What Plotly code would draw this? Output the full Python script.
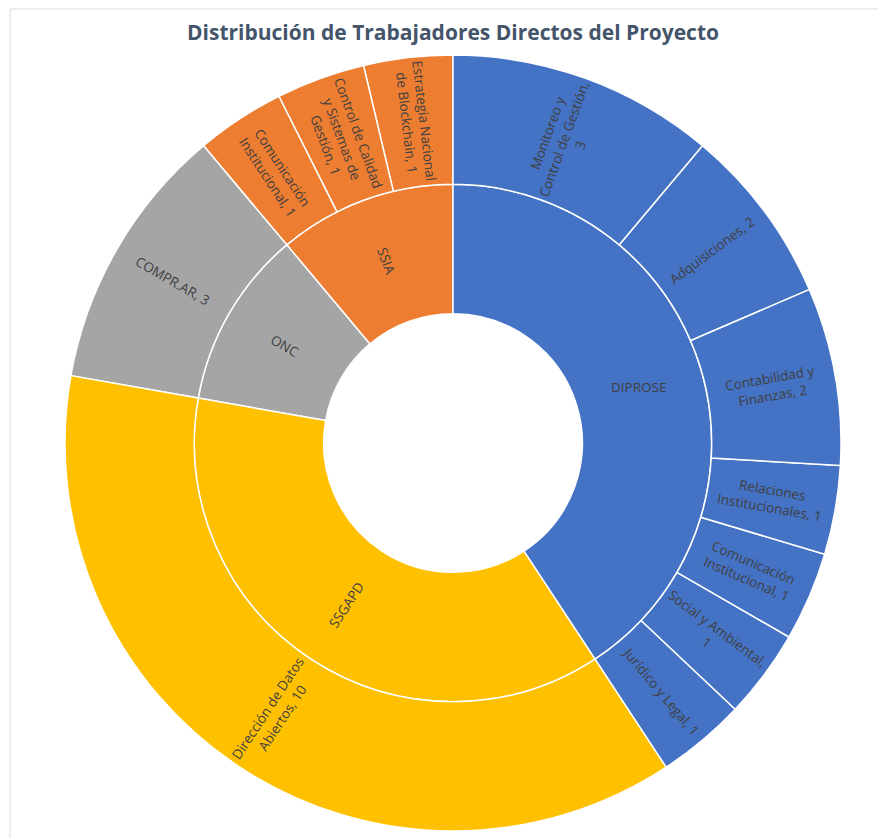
import math
import plotly.graph_objects as go

# ---- data ----
groups = ["SSIA", "ONC", "SSGAPD", "DIPROSE"]
group_colors = ["#ED7D31", "#A5A5A5", "#FFC000", "#4472C4"]

areas_ssia = ["Estrategia Nacional de Blockchain", "Control de Calidad y Sistemas de Gestión", "Comunicación Institucional"]
values_ssia = [1, 1, 1]
areas_onc = ["COMPR.AR"]
values_onc = [3]
areas_ssgapd = ["Dirección de Datos Abiertos"]
values_ssgapd = [10]
areas_diprose = ["Jurídico y Legal", "Social y Ambiental", "Comunicación Institucional",
                 "Relaciones Institucionales", "Contabilidad y Finanzas", "Adquisiciones",
                 "Monitoreo y Control de Gestión"]
values_diprose = [1, 1, 1, 1, 2, 2, 3]

# wrapped display labels (as in the original)
wrap = {
    "Estrategia Nacional de Blockchain": "Estrategia Nacional<br>de Blockchain, 1",
    "Control de Calidad y Sistemas de Gestión": "Control de Calidad<br>y Sistemas de<br>Gestión, 1",
    "Comunicación Institucional": "Comunicación<br>Institucional, 1",
    "COMPR.AR": "COMPR.AR, 3",
    "Dirección de Datos Abiertos": "Dirección de Datos<br>Abiertos, 10",
    "Jurídico y Legal": "Jurídico y Legal, 1",
    "Social y Ambiental": "Social y Ambiental,<br>1",
    "Relaciones Institucionales": "Relaciones<br>Institucionales, 1",
    "Contabilidad y Finanzas": "Contabilidad y<br>Finanzas, 2",
    "Adquisiciones": "Adquisiciones, 2",
    "Monitoreo y Control de Gestión": "Monitoreo y<br>Control de Gestión,<br>3",
}
horizontal_labels = {"DIPROSE"}

children = {
    "SSIA": (areas_ssia, values_ssia),
    "ONC": (areas_onc, values_onc),
    "SSGAPD": (areas_ssgapd, values_ssgapd),
    "DIPROSE": (areas_diprose, values_diprose),
}

ids, labels, parents, values, colors = [], [], [], [], []
total = sum(sum(v) for _, v in children.values())
ids.append("root"); labels.append(""); parents.append(""); values.append(total)
colors.append("white")
for g, c in zip(groups, group_colors):
    names, vals = children[g]
    ids.append(g); labels.append(g); parents.append("root"); values.append(sum(vals))
    colors.append(c)
    for n, v in zip(names, vals):
        ids.append(g + "/" + n); labels.append(n); parents.append(g); values.append(v)
        colors.append(c)

fig = go.Figure(go.Sunburst(
    ids=ids, labels=labels, parents=parents, values=values,
    branchvalues="total", sort=False, rotation=90,
    textinfo="none",
    leaf=dict(opacity=1),
    marker=dict(colors=colors, line=dict(color="white", width=1.5)),
    hoverinfo="label+value",
))

# ---- radial labels, computed from the data (sectors run counter-clockwise from 12 o'clock) ----
annotations = []
font = dict(family="Open Sans", size=13.5, color="#404040")


def label(text, theta, r, ang):
    return dict(x=0.5 + r * math.sin(math.radians(theta)),
                y=0.5 + r * math.cos(math.radians(theta)),
                xref="paper", yref="paper", xanchor="center", yanchor="middle",
                text=text, showarrow=False, textangle=ang, font=font, align="center")


cum = 0.0
for g in groups:
    names, vals = children[g]
    gstart = cum
    for n, v in zip(names, vals):
        a0 = cum; a1 = cum + v
        cum = a1
        theta = (360.0 - (a0 + a1) / 2 / total * 360.0) % 360.0   # clockwise from top
        ang = theta - 90 if theta < 180 else theta - 270
        annotations.append(label(wrap[n], theta, 2.5 / 6.0, ang))
    theta = (360.0 - (gstart + cum) / 2 / total * 360.0) % 360.0
    ang = 0 if g in horizontal_labels else (theta - 90 if theta < 180 else theta - 270)
    annotations.append(label(g, theta, 1.5 / 6.0, ang))

W, H = 878, 830
L, T, D = 57, 47, 776
fig.update_layout(
    width=W, height=H,
    margin=dict(l=L, r=W - L - D, t=T, b=H - T - D),
    paper_bgcolor="white",
    title=dict(text="<b>Distribución de Trabajadores Directos del Proyecto</b>",
               x=445 / W, xanchor="center", y=1 - 25 / H, yanchor="middle",
               font=dict(family="Open Sans", size=21, color="#44546A")),
    annotations=annotations,
    shapes=[dict(type="rect", xref="paper", yref="paper",
                 x0=(2 - L) / D, x1=(W + 20 - L) / D,
                 y0=-40 / D, y1=(T + D - 1) / D,
                 line=dict(color="#dcdcdc", width=1), fillcolor="rgba(0,0,0,0)", layer="below")],
)

fig.write_html("out.html")
